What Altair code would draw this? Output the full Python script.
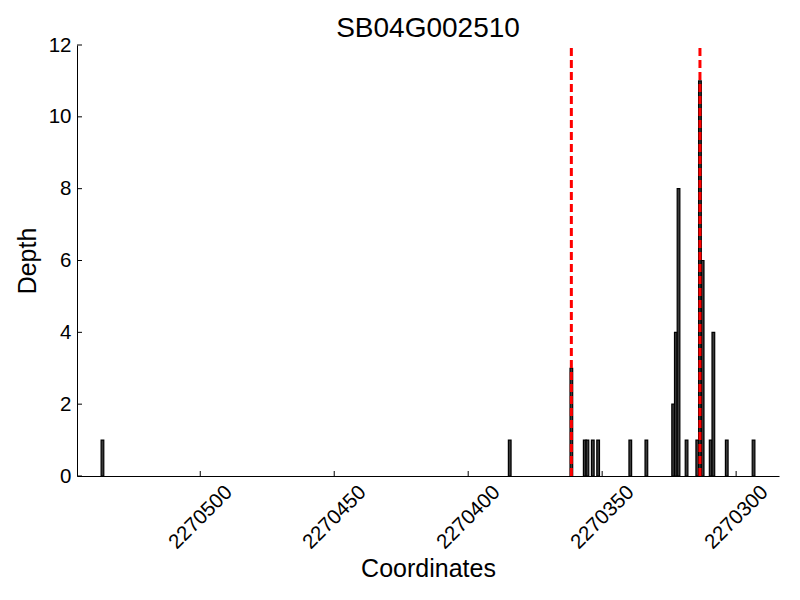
import altair as alt
import pandas as pd

# Bar left-edge coordinates and depths
coordinates = [2270536, 2270384, 2270361, 2270356, 2270355, 2270353, 2270351,
               2270339, 2270333, 2270323, 2270322, 2270321, 2270318, 2270314,
               2270313, 2270312, 2270309, 2270308, 2270303, 2270293]
depths = [1, 1, 3, 1, 1, 1, 1,
          1, 1, 2, 4, 8, 1, 1,
          11, 6, 1, 4, 1, 1]
marker_lines = [2270361.5, 2270313.5]
x_ticks = [2270300, 2270350, 2270400, 2270450, 2270500]
y_ticks = [0, 2, 4, 6, 8, 10, 12]
title_text = "SB04G002510"

FONT = "Liberation Sans"
W, H = 702, 431

bars_df = pd.DataFrame({"coord": coordinates, "depth": depths})
lines_df = pd.DataFrame({"pos": marker_lines})
xt_df = pd.DataFrame({"t": x_ticks})
yt_df = pd.DataFrame({"t": y_ticks})

xscale = alt.Scale(domain=[2270284, 2270546], reverse=True, nice=False, zero=False)
yscale = alt.Scale(domain=[0, 12], nice=False, zero=True)

xaxis = alt.Axis(title="Coordinates", values=x_ticks, format="d", grid=False,
                 ticks=False, tickSize=0, labelAngle=-45, labelAlign="center",
                 labelBaseline="middle", labelPadding=41, labelFontSize=20.5,
                 labelFont=FONT, labelColor="black", labelOverlap=False,
                 labelFlush=False, labelLimit=300, domainColor="black", domainWidth=1,
                 titleFont=FONT, titleFontSize=25, titleFontWeight="normal",
                 titleColor="black", titleBaseline="alphabetic", titleY=100,
                 titleX=W / 2, titleAlign="center")
yaxis = alt.Axis(title="Depth", values=y_ticks, format="d", grid=False,
                 ticks=False, tickSize=0, labelPadding=6, labelFontSize=20.5,
                 labelFont=FONT, labelColor="black", labelFlush=False,
                 labelOverlap=False,
                 domainColor="black", domainWidth=1, titleFont=FONT,
                 titleFontSize=25, titleFontWeight="normal", titleColor="black",
                 titleAngle=270, titleBaseline="alphabetic", titleX=-42,
                 titleY=H / 2, titleAlign="center")

bars = alt.Chart(bars_df).transform_calculate(
    end="datum.coord + 1"
).mark_bar(fill="#3a3a3a", stroke="black", strokeWidth=1.2).encode(
    x=alt.X("coord:Q", scale=xscale, axis=xaxis),
    x2="end:Q",
    y=alt.Y("depth:Q", scale=yscale, axis=yaxis),
    y2=alt.datum(0),
)

vlines = alt.Chart(lines_df).mark_rule(color="red", strokeWidth=3,
                                       strokeDash=[8, 4]).encode(
    x=alt.X("pos:Q", scale=xscale),
    y=alt.datum(0, scale=yscale),
    y2=alt.datum(12),
)

xticks = alt.Chart(xt_df).mark_rule(color="black", strokeWidth=1).encode(
    x=alt.X("t:Q", scale=xscale),
    y=alt.value(H),
    y2=alt.value(H - 5),
)

yticks = alt.Chart(yt_df).mark_rule(color="black", strokeWidth=1).encode(
    y=alt.Y("t:Q", scale=yscale),
    x=alt.value(0),
    x2=alt.value(5),
)

chart = alt.layer(bars, vlines, xticks, yticks).properties(
    width=W,
    height=H,
    background="white",
    title=alt.TitleParams(title_text, font=FONT, fontSize=28,
                          fontWeight="normal", color="black", anchor="middle",
                          frame="group", offset=1, dy=9),
    autosize=alt.AutoSizeParams(type="none"),
    padding={"left": 69, "top": 37, "right": 13, "bottom": 116},
).configure_view(stroke=None)

chart.save("out.html", embed_options={"renderer": "svg", "actions": False})
